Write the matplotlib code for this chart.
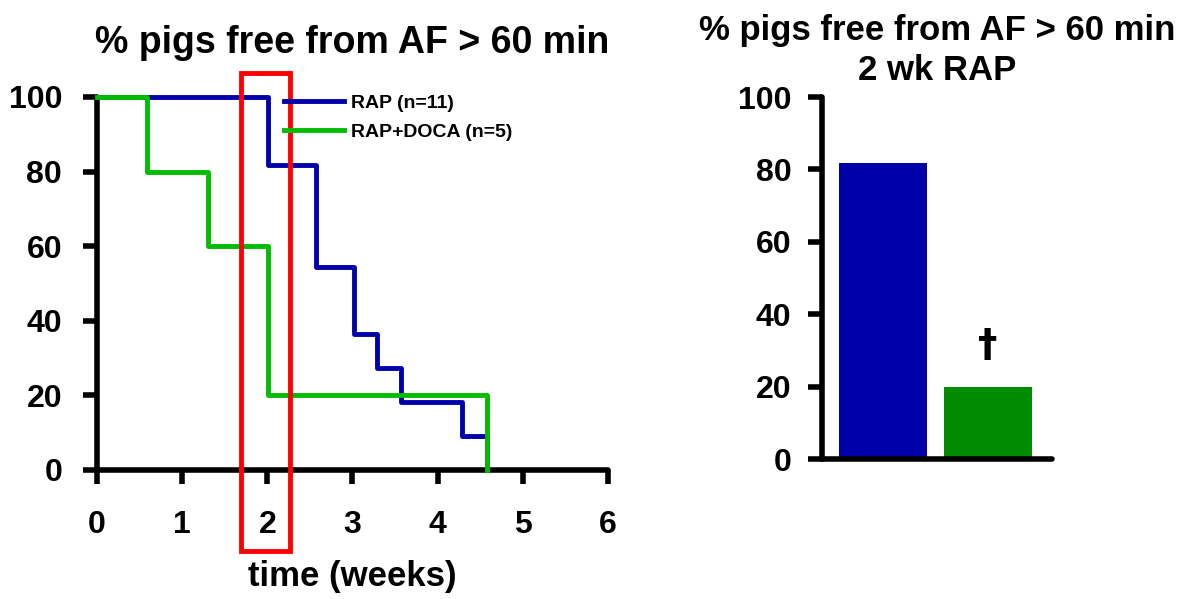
import matplotlib
matplotlib.use("Agg")
import matplotlib.pyplot as plt
from matplotlib.patches import Rectangle

plt.rcParams['font.family'] = ['Liberation Sans', 'DejaVu Sans']
plt.rcParams['font.weight'] = 'bold'

# Kaplan-Meier style step data (time in weeks, % free from AF)
rap_t = [0, 2.01, 2.57, 3.02, 3.29, 3.57, 4.29, 4.58]
rap_y = [100, 81.8, 54.5, 36.4, 27.3, 18.2, 9.1, 0]
doca_t = [0, 0.59, 1.30, 2.01, 4.58]
doca_y = [100, 80, 60, 20, 0]

bar_labels = ["RAP", "RAP+DOCA"]
bar_values = [81.8, 20]

BLUE = "#0000AA"
GREEN = "#00BB00"
BAR_GREEN = "#008C00"

fig = plt.figure(figsize=(11.84, 5.99), dpi=100)
ax1 = fig.add_axes([0.0819, 0.2154, 0.4316, 0.6227])
ax2 = fig.add_axes([0.6943, 0.2337, 0.1943, 0.6043])


def style(ax):
    for s in ("top", "right"):
        ax.spines[s].set_visible(False)
    for s in ("left", "bottom"):
        ax.spines[s].set_linewidth(4)
        ax.spines[s].set_capstyle("round")
    ax.tick_params(width=4, length=10, labelsize=23, pad=15)
    for lab in ax.get_xticklabels() + ax.get_yticklabels():
        lab.set_fontweight("bold")


# left: step curves
ax1.step(rap_t, rap_y, where="post", color=BLUE, lw=3.5,
         label="RAP (n=11)", clip_on=False, zorder=3)
ax1.step(doca_t, doca_y, where="post", color=GREEN, lw=3.5,
         label="RAP+DOCA (n=5)", clip_on=False, zorder=4)
ax1.set_xlim(0, 6)
ax1.set_ylim(0, 100)
ax1.set_xticks(range(7))
ax1.set_yticks(range(0, 101, 20))
style(ax1)
ax1.tick_params(axis="x", pad=19)
ax1.set_xlabel("time (weeks)", fontsize=25, fontweight="bold", labelpad=14)
ax1.set_title("% pigs free from AF > 60 min", fontsize=27, fontweight="bold",
              pad=32)
leg = ax1.legend(loc="upper left", bbox_to_anchor=(0.366, 1.008), frameon=False,
                 fontsize=14, handlelength=3.1, handletextpad=0.36,
                 labelspacing=0.62, borderpad=0, borderaxespad=0)
for t in leg.get_texts():
    t.set_fontweight("bold")

# red highlight box around week 2
ax1.add_patch(Rectangle((1.691, -21.7), 0.575, 128.1, fill=False, ec="#FF0000",
                        lw=3.5, clip_on=False, zorder=5))

# right: bars at 2 weeks
ax2.bar([0, 1], bar_values, width=0.84, color=[BLUE, BAR_GREEN])
ax2.set_xlim(-0.584, 1.617)
ax2.set_ylim(0, 100)
ax2.set_yticks(range(0, 101, 20))
ax2.set_xticks([])
style(ax2)
ax2.tick_params(axis="y", pad=12)
ax2.text(1, 31.2, "†", ha="center", va="center", fontsize=28, fontweight="bold",
         family=["DejaVu Sans"])
ax2.set_title("% pigs free from AF > 60 min\n2 wk RAP", fontsize=25,
              fontweight="bold", linespacing=1.3, pad=12)

fig.savefig("out.png", dpi=100)
